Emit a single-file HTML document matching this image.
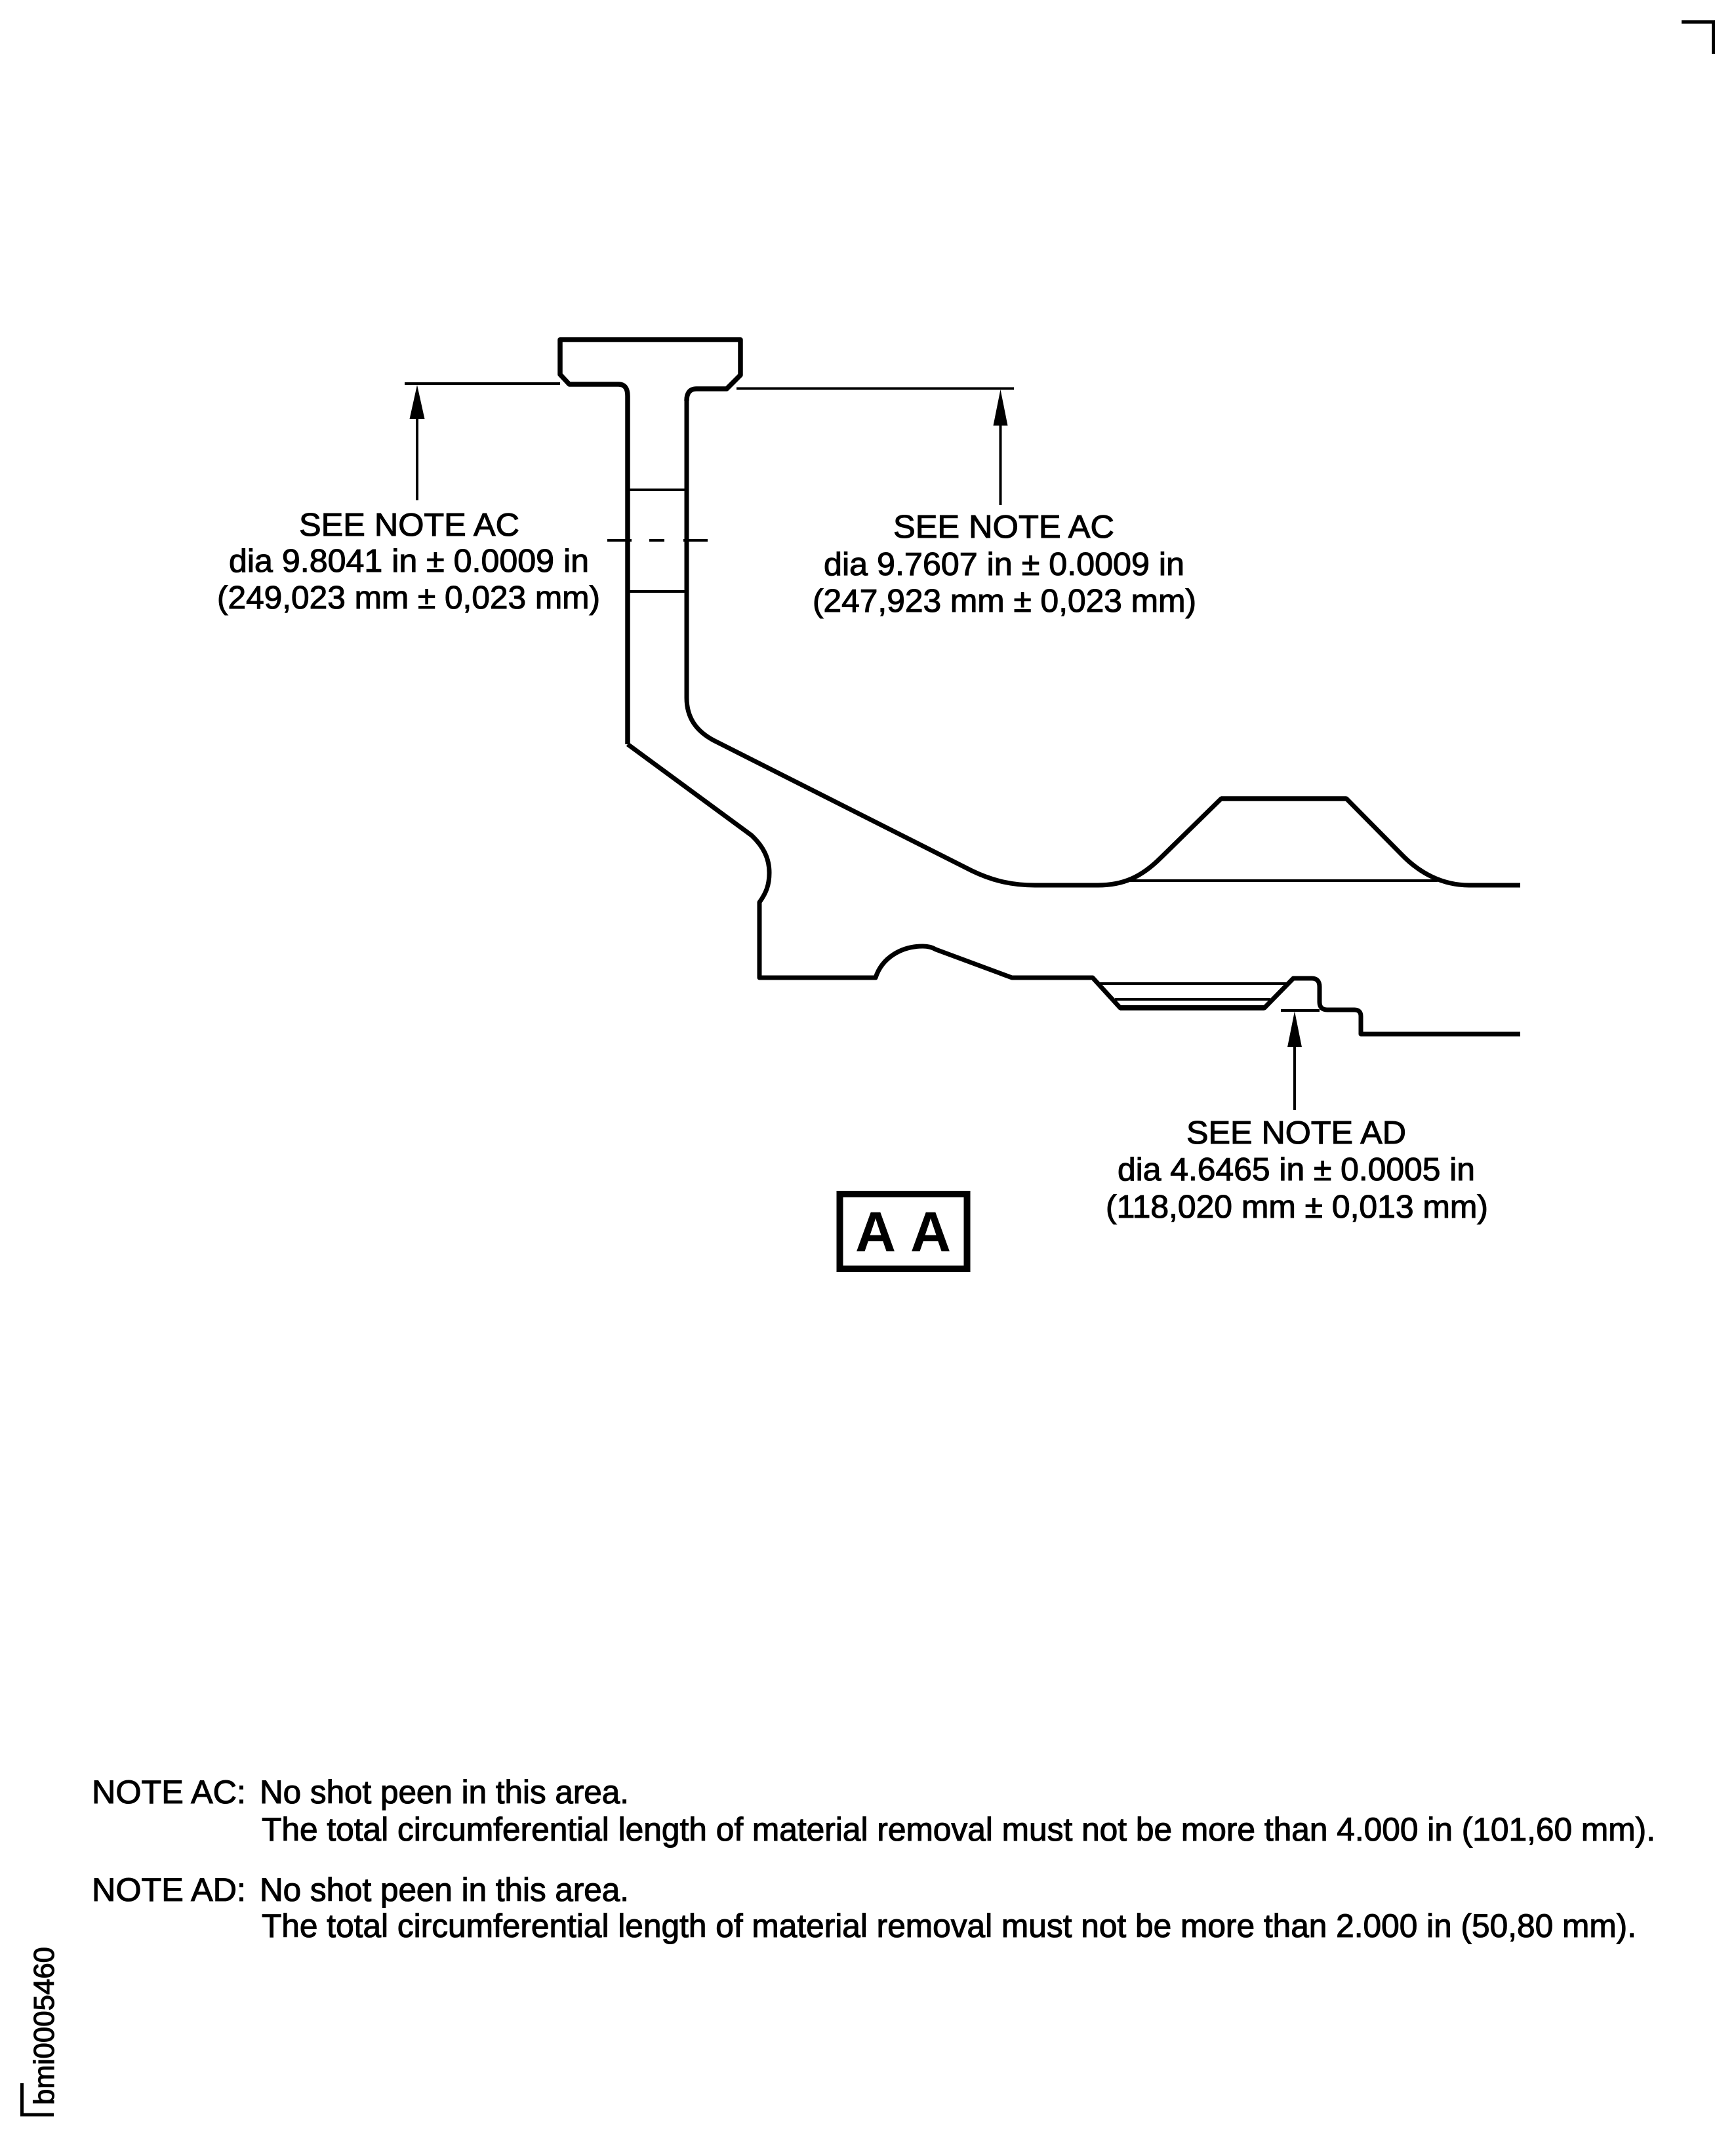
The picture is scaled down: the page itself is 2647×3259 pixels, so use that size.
<!DOCTYPE html>
<html>
<head>
<meta charset="utf-8">
<style>
html,body{margin:0;padding:0;background:#fff;width:2647px;height:3259px;overflow:hidden}
svg{display:block}
text{font-family:"Liberation Sans",sans-serif;fill:#000;stroke:#000;stroke-width:1.1}
text.b{stroke-width:0}
</style>
</head>
<body>
<svg width="2647" height="3259" viewBox="0 0 2647 3259" xmlns="http://www.w3.org/2000/svg">
<rect width="2647" height="3259" fill="#fff"/>

<!-- corner marks -->
<path d="M2564 33.5H2612.5V82" fill="none" stroke="#000" stroke-width="5"/>
<path d="M33.5 3177V3225H82" fill="none" stroke="#000" stroke-width="5"/>
<text transform="translate(82 3210) rotate(-90)" font-size="44" textLength="241" lengthAdjust="spacingAndGlyphs">bmi0005460</text>

<!-- flange and upper profile -->
<g fill="none" stroke="#000" stroke-linejoin="round" stroke-linecap="butt">
<path stroke-width="7.5" d="M957 1135L957 604Q957 586 943 586L868 586L854 571L854 518L1129 518L1129 572L1108 593L1062 593Q1047 593 1047 611"/>
<path stroke-width="7" d="M1047 611L1047 1064C1047 1095 1062 1115 1088 1129L1482 1328C1515 1344 1545 1350 1578 1350L1674 1350C1712 1350 1740 1338 1770 1308L1862 1218L2053 1218L2137 1303C2165 1332 2200 1350 2240 1350L2318 1350"/>
<path stroke-width="7" d="M957 1135L1146 1274C1165 1292 1173 1310 1173 1331C1173 1350 1168 1362 1158 1376L1158 1491L1335 1491C1345 1460 1375 1443 1407 1443C1415 1443 1422 1445 1427 1448L1543 1491L1666 1491L1708 1537L1928 1537L1972 1492L2000 1492Q2012 1492 2012 1505L2012 1528Q2012 1540 2024 1540L2065 1540Q2075 1540 2075 1550L2075 1577L2318 1577"/>
<path stroke-width="8" d="M1708 1537H1928"/>
<path stroke-width="7.5" d="M1862 1218H2053"/>
</g>

<!-- thin lines -->
<g fill="none" stroke="#000" stroke-width="4">
<path d="M960 747H1045"/>
<path d="M960 902H1045"/>
<path d="M926 824H963M990 824H1013M1042 824H1079"/>
<path d="M1722 1343H2192"/>
<path d="M1675 1500H1963"/>
<path d="M1700 1524H1937"/>
<path d="M617 585H854"/>
<path d="M1123 592.5H1546"/>
<path d="M1953 1541H2012"/>
<path d="M636 630V763"/>
<path d="M1525.5 640V770"/>
<path d="M1974 1590V1693"/>
</g>

<!-- arrowheads -->
<polygon points="636,587 624.5,639 647.5,639" fill="#000"/>
<polygon points="1525.5,594 1514.5,649 1536.5,649" fill="#000"/>
<polygon points="1974,1542 1963,1597 1985,1597" fill="#000"/>

<!-- left label -->
<text x="456" y="817" font-size="49" textLength="336" lengthAdjust="spacingAndGlyphs">SEE NOTE AC</text>
<text x="349" y="872" font-size="49" textLength="549" lengthAdjust="spacingAndGlyphs">dia 9.8041 in ± 0.0009 in</text>
<text x="331" y="928" font-size="49" textLength="584" lengthAdjust="spacingAndGlyphs">(249,023 mm ± 0,023 mm)</text>

<!-- right label -->
<text x="1362" y="820" font-size="49" textLength="337" lengthAdjust="spacingAndGlyphs">SEE NOTE AC</text>
<text x="1256" y="877" font-size="49" textLength="550" lengthAdjust="spacingAndGlyphs">dia 9.7607 in ± 0.0009 in</text>
<text x="1239" y="933" font-size="49" textLength="585" lengthAdjust="spacingAndGlyphs">(247,923 mm ± 0,023 mm)</text>

<!-- AD label -->
<text x="1809" y="1744" font-size="49" textLength="335" lengthAdjust="spacingAndGlyphs">SEE NOTE AD</text>
<text x="1704" y="1800" font-size="49" textLength="545" lengthAdjust="spacingAndGlyphs">dia 4.6465 in ± 0.0005 in</text>
<text x="1686" y="1857" font-size="49" textLength="583" lengthAdjust="spacingAndGlyphs">(118,020 mm ± 0,013 mm)</text>

<!-- AA box -->
<rect x="1280.5" y="1821" width="194" height="114" fill="none" stroke="#000" stroke-width="10"/>
<text class="b" x="1304" y="1908" font-size="86" font-weight="bold">A</text>
<text class="b" x="1388" y="1908" font-size="86" font-weight="bold">A</text>

<!-- notes -->
<text x="140" y="2750" font-size="50" textLength="235" lengthAdjust="spacingAndGlyphs">NOTE AC:</text>
<text x="396" y="2750" font-size="50" textLength="563" lengthAdjust="spacingAndGlyphs">No shot peen in this area.</text>
<text x="399" y="2807" font-size="50" textLength="2125" lengthAdjust="spacingAndGlyphs">The total circumferential length of material removal must not be more than 4.000 in (101,60 mm).</text>
<text x="140" y="2899" font-size="50" textLength="235" lengthAdjust="spacingAndGlyphs">NOTE AD:</text>
<text x="396" y="2899" font-size="50" textLength="563" lengthAdjust="spacingAndGlyphs">No shot peen in this area.</text>
<text x="399" y="2954" font-size="50" textLength="2096" lengthAdjust="spacingAndGlyphs">The total circumferential length of material removal must not be more than 2.000 in (50,80 mm).</text>
</svg>
</body>
</html>
